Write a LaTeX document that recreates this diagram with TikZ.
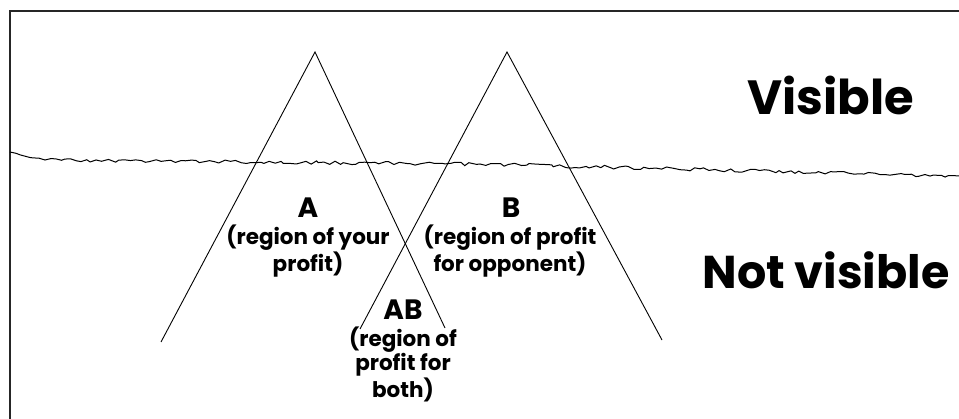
\documentclass[tikz,border=0pt]{standalone}
\usepackage{fontspec}
\setmainfont{Poppins}
\usetikzlibrary{decorations.pathmorphing}

\tikzset{
  leg/.style={line width=0.9pt},
  horizon/.style={line width=1pt, decorate, decoration={random steps, segment length=5pt, amplitude=1.8pt}},
  region/.style={font=\bfseries\fontsize{21.5}{23}\selectfont, align=center, inner sep=0pt, anchor=north},
  letter/.style={font=\bfseries\fontsize{28}{30}\selectfont, inner sep=0pt, anchor=base},
  side/.style={font=\bfseries\fontsize{48}{50}\selectfont, inner sep=0pt, anchor=base},
}

\begin{document}
\begin{tikzpicture}[x=1pt,y=-1pt]
\useasboundingbox (0,0) rectangle (959,419);

% frame
\draw[line width=2.4pt, draw=black!85] (10,419) -- (10,11) -- (959,11);

% horizon
\pgfmathsetseed{11}
\draw[horizon] (10,152) -- (45,160) -- (480,164) -- (959,176);

% the two profit regions
\coordinate (topA) at (315,52);
\coordinate (footAl) at (161,342);
\coordinate (footAr) at (445,328);
\coordinate (topB) at (507,52);
\coordinate (footBl) at (360,329);
\coordinate (footBr) at (662,340);
\draw[leg] (footAl) -- (topA) -- (footAr);
\draw[leg] (footBl) -- (topB) -- (footBr);

% labels
\node[side] (vis) at (831,115) {Visible};
\node[side, font=\bfseries\fontsize{46}{48}\selectfont] (notvis) at (826,289) {Not visible};

\node[letter] (A) at (308,218) {A};
\node[region] (descA) at (308,225) {(region of your\\profit)};
\node[letter] (B) at (511,218) {B};
\node[region] (descB) at (510,225) {(region of profit\\for opponent)};
\node[letter] (AB) at (403,320) {AB};
\node[region] (descAB) at (403,327) {(region of\\profit for\\both)};
\end{tikzpicture}
\end{document}
